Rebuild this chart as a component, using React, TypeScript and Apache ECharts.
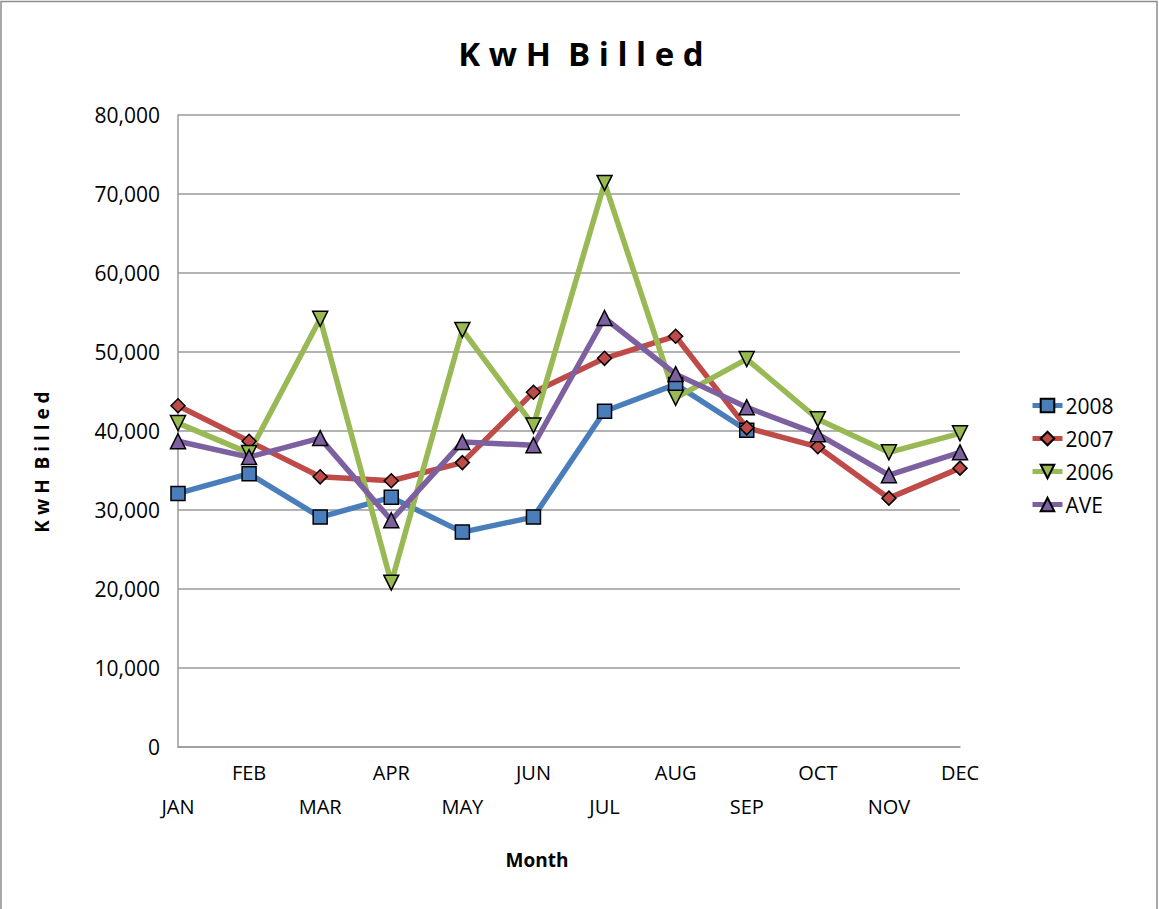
import React, { useEffect, useRef } from "react";
import * as echarts from "echarts";

const months = ["JAN", "FEB", "MAR", "APR", "MAY", "JUN", "JUL", "AUG", "SEP", "OCT", "NOV", "DEC"];
const s2008 = [32100, 34600, 29100, 31600, 27200, 29100, 42500, 45900, 40100, null, null, null];
const s2007 = [43200, 38700, 34200, 33700, 36000, 44900, 49200, 52000, 40400, 38000, 31500, 35300];
const s2006 = [41000, 37200, 54200, 20800, 52800, 40700, 71400, 44200, 49100, 41500, 37300, 39700];
const sAve = [38700, 36700, 39100, 28700, 38600, 38200, 54300, 47200, 43000, 39600, 34400, 37300];
const yTicks = { min: 0, max: 80000, interval: 10000 };

const FONT = "'Open Sans', 'Noto Sans', sans-serif";

export default function App() {
  const ref = useRef<HTMLDivElement>(null);
  useEffect(() => {
    document.body.style.margin = "0";
    const chart = echarts.init(ref.current!, null, { renderer: "svg" });
    const mk = (name: string, data: (number | null)[], color: string, symbol: string, size: number, rotate = 0) => ({
      name,
      type: "line",
      data,
      symbol,
      symbolSize: size,
      symbolRotate: rotate,
      showAllSymbol: true,
      connectNulls: false,
      lineStyle: { color, width: 5.5 },
      itemStyle: { color, borderColor: "#000", borderWidth: 1.5 },
      emphasis: { disabled: true },
    });
    chart.setOption({
      animation: false,
      backgroundColor: "#fff",
      textStyle: { fontFamily: FONT },
      title: {
        text: "K w H  B i l l e d",
        left: 576,
        textAlign: "center",
        top: 32,
        textStyle: { fontFamily: FONT, fontWeight: "bold", fontSize: 33, color: "#000" },
      },
      grid: { left: 178, right: 199, top: 115, bottom: 162, containLabel: false },
      legend: {
        orient: "vertical",
        left: 1025,
        top: 390,
        itemWidth: 30,
        itemHeight: 17,
        itemGap: 12,
        lineStyle: { width: 5 },
        textStyle: { fontFamily: FONT, fontSize: 21, color: "#000", padding: [0, 0, 0, -2] },
        data: ["2008", "2007", "2006", "AVE"],
      },
      xAxis: {
        type: "category",
        data: months,
        boundaryGap: false,
        axisLine: { lineStyle: { color: "#9a9a9a", width: 1.5 } },
        axisTick: { show: false },
        axisLabel: {
          interval: 0,
          hideOverlap: false,
          margin: 8,
          color: "#000",
          fontFamily: FONT,
          fontSize: 20,
          lineHeight: 34,
          formatter: (v: string, i: number) => (i % 2 === 0 ? "\n" + v : v),
        },
      },
      yAxis: {
        type: "value",
        min: yTicks.min,
        max: yTicks.max,
        interval: yTicks.interval,
        axisLine: { show: true, lineStyle: { color: "#9a9a9a", width: 1.5 } },
        axisTick: { show: false },
        splitLine: { lineStyle: { color: "#9a9a9a", width: 1.5 } },
        axisLabel: {
          margin: 18,
          color: "#000",
          fontFamily: FONT,
          fontSize: 21,
          formatter: (v: number) => v.toLocaleString("en-US"),
        },
      },
      graphic: [
        {
          type: "rect",
          shape: { x: 1, y: 1.5, width: 1156, height: 930 },
          style: { fill: "none", stroke: "#8c8c8c", lineWidth: 1.5 },
          silent: true,
        },
        {
          type: "text",
          x: 537,
          y: 860,
          style: { text: "Month", fontFamily: FONT, fontWeight: "bold", fontSize: 19, fill: "#000", align: "center", verticalAlign: "middle" },
        },
        {
          type: "text",
          x: 42,
          y: 462,
          rotation: Math.PI / 2,
          style: { text: "K w H  B i l l e d", fontFamily: FONT, fontWeight: "bold", fontSize: 19, fill: "#000", align: "center", verticalAlign: "middle" },
        },
      ],
      series: [
        mk("2008", s2008, "#4a7ebb", "rect", 14),
        mk("2007", s2007, "#be4b48", "diamond", 14),
        mk("2006", s2006, "#98b954", "triangle", 15, 180),
        mk("AVE", sAve, "#7d60a0", "triangle", 15),
      ],
    });
    return () => chart.dispose();
  }, []);
  return <div ref={ref} style={{ position: "absolute", left: 0, top: 0, width: 1159, height: 909 }} />;
}
